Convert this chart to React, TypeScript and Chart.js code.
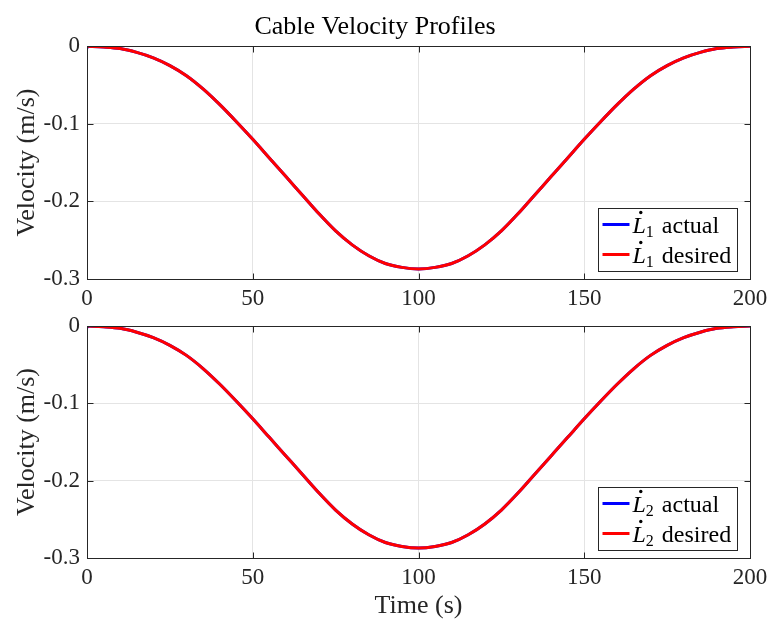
import React, { useEffect, useRef } from 'react';
import { Chart, registerables } from 'chart.js';

Chart.register(...registerables);

// ---- data ----
const TIME = [0, 5, 10, 15, 20, 25, 30, 35, 40, 45, 50, 55, 60, 65, 70, 75, 80, 85, 90, 95, 100,
  105, 110, 115, 120, 125, 130, 135, 140, 145, 150, 155, 160, 165, 170, 175, 180, 185, 190, 195, 200];

const L1_DESIRED = [0, -0.001, -0.003, -0.008, -0.015, -0.025, -0.038, -0.055, -0.075, -0.097, -0.120,
  -0.144, -0.168, -0.192, -0.216, -0.238, -0.256, -0.270, -0.280, -0.285, -0.287,
  -0.285, -0.280, -0.270, -0.256, -0.238, -0.216, -0.192, -0.168, -0.144, -0.120,
  -0.097, -0.075, -0.055, -0.038, -0.025, -0.015, -0.008, -0.003, -0.001, 0];
const L1_ACTUAL = [0, -0.001, -0.003, -0.008, -0.015, -0.025, -0.038, -0.055, -0.075, -0.097, -0.120,
  -0.144, -0.168, -0.192, -0.216, -0.238, -0.256, -0.270, -0.280, -0.285, -0.287,
  -0.285, -0.280, -0.270, -0.256, -0.238, -0.216, -0.192, -0.168, -0.144, -0.120,
  -0.097, -0.075, -0.055, -0.038, -0.025, -0.015, -0.008, -0.003, -0.001, 0];
const L2_DESIRED = [0, -0.001, -0.003, -0.008, -0.015, -0.025, -0.038, -0.055, -0.075, -0.097, -0.120,
  -0.144, -0.168, -0.192, -0.216, -0.238, -0.256, -0.270, -0.280, -0.285, -0.287,
  -0.285, -0.280, -0.270, -0.256, -0.238, -0.216, -0.192, -0.168, -0.144, -0.120,
  -0.097, -0.075, -0.055, -0.038, -0.025, -0.015, -0.008, -0.003, -0.001, 0];
const L2_ACTUAL = [0, -0.001, -0.003, -0.008, -0.015, -0.025, -0.038, -0.055, -0.075, -0.097, -0.120,
  -0.144, -0.168, -0.192, -0.216, -0.238, -0.256, -0.270, -0.280, -0.285, -0.287,
  -0.285, -0.280, -0.270, -0.256, -0.238, -0.216, -0.192, -0.168, -0.144, -0.120,
  -0.097, -0.075, -0.055, -0.038, -0.025, -0.015, -0.008, -0.003, -0.001, 0];

const X_TICKS = [0, 50, 100, 150, 200];
const Y_TICKS = [-0.3, -0.2, -0.1, 0];
const LEGEND_TEXTS = ['actual', 'desired'];
const TITLE = 'Cable Velocity Profiles';
const Y_LABEL = 'Velocity (m/s)';
const X_LABEL = 'Time (s)';

// ---- styling ----
const FONT = "'Liberation Serif', 'Times New Roman', serif";
const AXIS_COLOR = '#262626';
const GRID_COLOR = '#e4e4e4';
const BLUE = '#0000ff';
const RED = '#ff0000';

const toPoints = (ys: number[]) => TIME.map((t, i) => ({ x: t, y: ys[i] }));

const matlabPlugin = {
  id: 'matlabFrame',
  afterDraw(chart: any, _args: any, opts: any) {
    const { ctx, chartArea: a, scales } = chart;
    ctx.save();
    ctx.strokeStyle = AXIS_COLOR;
    ctx.lineWidth = 1;
    const tl = 6;
    const line = (x1: number, y1: number, x2: number, y2: number) => {
      ctx.beginPath();
      ctx.moveTo(x1, y1);
      ctx.lineTo(x2, y2);
      ctx.stroke();
    };
    const L = Math.round(a.left) + 0.5;
    const R = Math.round(a.right) + 0.5;
    const T = Math.round(a.top) + 0.5;
    const B = Math.round(a.bottom) + 0.5;
    scales.x.ticks.forEach((t: any) => {
      const px = Math.round(scales.x.getPixelForValue(t.value)) + 0.5;
      line(px, B, px, B - tl);
      line(px, T, px, T + tl);
    });
    scales.y.ticks.forEach((t: any) => {
      const py = Math.round(scales.y.getPixelForValue(t.value)) + 0.5;
      line(L, py, L + tl, py);
      line(R, py, R - tl, py);
    });
    ctx.strokeRect(L, T, R - L, B - T);

    // legend
    const sub = opts.sub;
    const bigFont = `24px ${FONT}`;
    const itFont = `italic 24px ${FONT}`;
    const subFont = `16px ${FONT}`;
    const measure = (txt: string) => {
      ctx.font = itFont;
      const lw = ctx.measureText('L').width;
      ctx.font = subFont;
      const sw = ctx.measureText(sub).width;
      ctx.font = bigFont;
      const tw = ctx.measureText(' ' + txt).width;
      return { lw, sw, tw, total: lw + sw + 2 + tw };
    };
    const maxW = Math.max(...LEGEND_TEXTS.map((t) => measure(t).total));
    const boxW = Math.round(4 + 27 + 3 + maxW + 6);
    const boxH = 63;
    const bx = Math.round(a.right - 13 - boxW) + 0.5;
    const by = Math.round(a.bottom - 8 - boxH) + 0.5;
    ctx.fillStyle = '#ffffff';
    ctx.fillRect(bx, by, boxW, boxH);
    ctx.strokeStyle = AXIS_COLOR;
    ctx.lineWidth = 1;
    ctx.strokeRect(bx, by, boxW, boxH);
    const rows = [16, 46];
    LEGEND_TEXTS.forEach((txt, i) => {
      const ds = chart.data.datasets[i];
      const yc = by + rows[i];
      ctx.strokeStyle = ds.borderColor;
      ctx.lineWidth = 3;
      line(bx + 4, yc, bx + 31, yc);
      const m = measure(txt);
      let x = bx + 34;
      const base = yc + 8;
      ctx.fillStyle = '#000000';
      ctx.textBaseline = 'alphabetic';
      ctx.textAlign = 'left';
      ctx.font = itFont;
      ctx.fillText('L', x, base);
      ctx.beginPath();
      ctx.arc(x + m.lw * 0.62, base - 20, 1.7, 0, Math.PI * 2);
      ctx.fill();
      x += m.lw;
      ctx.font = subFont;
      ctx.fillText(sub, x, base + 4);
      x += m.sw + 2;
      ctx.font = bigFont;
      ctx.fillText(' ' + txt, x, base);
    });
    ctx.restore();
  },
};

function makeConfig(actual: number[], desired: number[], sub: string, top: boolean): any {
  return {
    type: 'line',
    data: {
      datasets: [
        {
          label: `L̇${sub} actual`,
          data: toPoints(actual),
          borderColor: BLUE,
          backgroundColor: BLUE,
          borderWidth: 3,
          order: 1,
          pointRadius: (c: any) => (c.dataIndex === 0 ? 2.5 : 0),
          pointBorderWidth: 0,
          cubicInterpolationMode: 'monotone',
          fill: false,
        },
        {
          label: `L̇${sub} desired`,
          data: toPoints(desired),
          borderColor: RED,
          backgroundColor: RED,
          borderWidth: 3,
          order: 0,
          pointRadius: 0,
          cubicInterpolationMode: 'monotone',
          fill: false,
        },
      ],
    },
    options: {
      responsive: false,
      animation: false,
      events: [],
      layout: { padding: { left: 0, right: 18, top: top ? 0 : 16, bottom: 0 } },
      plugins: {
        legend: { display: false },
        tooltip: { enabled: false },
        title: top
          ? {
              display: true,
              text: TITLE,
              color: '#000000',
              font: { family: FONT, size: 26, weight: 'normal', lineHeight: 1.2 },
              padding: { top: 12, bottom: 3 },
            }
          : { display: false },
        matlabFrame: { sub },
      },
      scales: {
        x: {
          type: 'linear',
          min: 0,
          max: 200,
          afterBuildTicks: (s: any) => {
            s.ticks = X_TICKS.map((v) => ({ value: v }));
          },
          afterFit: (s: any) => {
            s.height = top ? 31 : 61;
            s.paddingLeft = 0;
            s.paddingRight = 0;
          },
          grid: { color: GRID_COLOR, drawTicks: false, lineWidth: 1 },
          border: { display: false },
          ticks: {
            color: AXIS_COLOR,
            padding: 6,
            maxRotation: 0,
            font: { family: FONT, size: 23 },
            callback: (v: any) => String(v),
          },
          title: {
            display: !top,
            text: X_LABEL,
            color: AXIS_COLOR,
            font: { family: FONT, size: 26, lineHeight: 1.0 },
            padding: { top: 0, bottom: 0 },
          },
        },
        y: {
          type: 'linear',
          min: -0.3,
          max: 0,
          afterBuildTicks: (s: any) => {
            s.ticks = Y_TICKS.map((v) => ({ value: v }));
          },
          afterFit: (s: any) => {
            s.width = 87;
            s.paddingTop = 0;
            s.paddingBottom = 0;
          },
          grid: { color: GRID_COLOR, drawTicks: false, lineWidth: 1 },
          border: { display: false },
          ticks: {
            color: AXIS_COLOR,
            padding: 7,
            font: { family: FONT, size: 23 },
            callback: (v: any) => {
              const n = Number(v);
              if (Math.abs(n) < 1e-9) return '0';
              return n.toFixed(1);
            },
          },
          title: {
            display: true,
            text: Y_LABEL,
            color: AXIS_COLOR,
            font: { family: FONT, size: 26, lineHeight: 1.2 },
            padding: { top: 12, bottom: 0 },
          },
        },
      },
    },
    plugins: [matlabPlugin],
  };
}

function Panel(props: { actual: number[]; desired: number[]; sub: string; top: boolean; y: number; h: number }) {
  const ref = useRef<HTMLCanvasElement | null>(null);
  useEffect(() => {
    if (!ref.current) return;
    const chart = new Chart(ref.current, makeConfig(props.actual, props.desired, props.sub, props.top));
    return () => chart.destroy();
  }, []);
  return (
    <div style={{ position: 'absolute', left: 0, top: props.y, width: 768, height: props.h }}>
      <canvas ref={ref} width={768} height={props.h} style={{ width: 768, height: props.h, display: 'block' }} />
    </div>
  );
}

export default function App() {
  return (
    <div style={{ position: 'fixed', left: 0, top: 0, width: 768, height: 619, background: '#ffffff', overflow: 'hidden' }}>
      <Panel actual={L1_ACTUAL} desired={L1_DESIRED} sub="1" top={true} y={0} h={310} />
      <Panel actual={L2_ACTUAL} desired={L2_DESIRED} sub="2" top={false} y={310} h={309} />
    </div>
  );
}
